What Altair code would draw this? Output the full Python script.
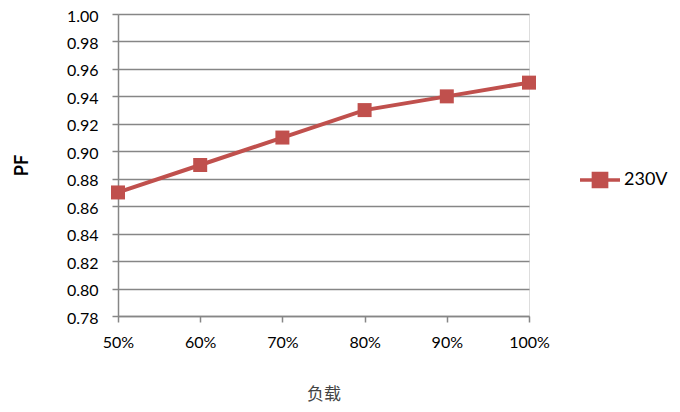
import altair as alt
import pandas as pd

loads = ["50%", "60%", "70%", "80%", "90%", "100%"]
pf_230v = [0.87, 0.89, 0.91, 0.93, 0.94, 0.95]
series_name = "230V"
y_ticks = [0.78, 0.80, 0.82, 0.84, 0.86, 0.88, 0.90, 0.92, 0.94, 0.96, 0.98, 1.00]

df = pd.DataFrame({"load": loads, "pf": pf_230v, "series": [series_name] * len(loads)})

RED = "#C0504D"
GRID = "#868686"
FONT = "Lato"

x = alt.X("load:N", sort=loads,
          scale=alt.Scale(type="point", padding=0),
          axis=alt.Axis(title="负载", titleFont="Noto Sans CJK SC", titleFontWeight="normal",
                        titleFontSize=17, titleColor="#444444", titleY=78, titleBaseline="middle",
                        labelAngle=0, labelFont=FONT, labelFontSize=16, labelColor="#000000",
                        labelPadding=12, tickSize=6, tickColor=GRID, domainColor=GRID,
                        tickWidth=1.5, domainWidth=1.5, grid=False))
y = alt.Y("pf:Q",
          scale=alt.Scale(domain=[0.78, 1.00], nice=False, zero=False),
          axis=alt.Axis(title="PF", titleFont=FONT, titleFontSize=18, titleFontWeight="bold",
                        titleColor="#000000", titleX=-96, titleBaseline="middle",
                        values=y_ticks, format=".2f",
                        labelFont=FONT, labelFontSize=16, labelColor="#000000",
                        labelBaseline="middle", labelOffset=2,
                        labelPadding=14, tickSize=6, tickColor=GRID, domainColor=GRID,
                        tickWidth=1.5, domainWidth=1.5,
                        grid=True, gridColor=GRID, gridWidth=1.5))
color = alt.Color("series:N", scale=alt.Scale(domain=[series_name], range=[RED]),
                  legend=alt.Legend(title=None, orient="none", legendX=460, legendY=144,
                                    symbolType="M-1,0L1,0M-0.33,-0.33L0.33,-0.33L0.33,0.33L-0.33,0.33Z",
                                    symbolSize=1600, symbolStrokeWidth=3.5,
                                    symbolFillColor=RED, symbolStrokeColor=RED,
                                    labelFont=FONT, labelFontSize=18, labelColor="#000000",
                                    labelOffset=2, padding=0))

base = alt.Chart(df)
line = base.mark_line(strokeWidth=4).encode(x=x, y=y, color=color)
pts = base.mark_point(shape="square", size=196, filled=True, opacity=1).encode(x=x, y=y, color=color)

chart = alt.layer(line, pts).properties(
    width=411, height=302,
    autosize=alt.AutoSizeParams(type="none"),
    padding={"left": 110, "top": 6, "right": 143, "bottom": 88},
).configure_view(stroke=None).configure(background="white")

chart.save("out.html", embed_options={"renderer": "svg", "actions": False})
